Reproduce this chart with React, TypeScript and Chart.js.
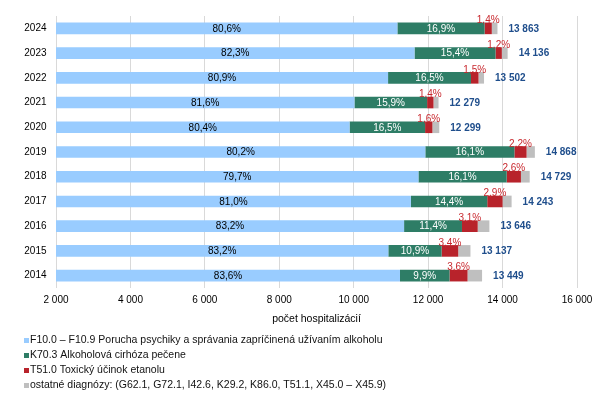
import React, { useEffect, useRef } from 'react';
import { Chart, registerables } from 'chart.js';

Chart.register(...registerables);

const years = ['2024', '2023', '2022', '2021', '2020', '2019', '2018', '2017', '2016', '2015', '2014'];
const totals = [13863, 14136, 13502, 12279, 12299, 14868, 14729, 14243, 13646, 13137, 13449];
const pctF10 = [80.6, 82.3, 80.9, 81.6, 80.4, 80.2, 79.7, 81.0, 83.2, 83.2, 83.6];
const pctK70 = [16.9, 15.4, 16.5, 15.9, 16.5, 16.1, 16.1, 14.4, 11.4, 10.9, 9.9];
const pctT51 = [1.4, 1.2, 1.5, 1.4, 1.6, 2.2, 2.6, 2.9, 3.1, 3.4, 3.6];
const pctOther = [1.1, 1.1, 1.1, 1.1, 1.5, 1.5, 1.6, 1.7, 2.3, 2.5, 2.9];

const seriesNames = [
  'F10.0 – F10.9 Porucha psychiky a správania zapríčinená užívaním alkoholu',
  'K70.3 Alkoholová cirhóza pečene',
  'T51.0 Toxický účinok etanolu',
  'ostatné diagnózy: (G62.1, G72.1, I42.6, K29.2, K86.0, T51.1, X45.0 – X45.9)',
];
const seriesColors = ['#99CCFF', '#2E7D66', '#B8232B', '#BFBFBF'];
const axisTitle = 'počet hospitalizácií';
const xMin = 2000;
const xMax = 16000;
const xStep = 2000;

const FONT = "'Liberation Sans', Arial, Helvetica, sans-serif";

const fmtThousands = (v: number) => String(Math.round(v)).replace(/\B(?=(\d{3})+(?!\d))/g, ' ');
const fmtPct = (v: number) => v.toFixed(1).replace('.', ',') + '%';

const pctSeries = [pctF10, pctK70, pctT51, pctOther];

const labelsPlugin = {
  id: 'customLabels',
  afterDatasetsDraw(chart: any) {
    const ctx = chart.ctx;
    const area = chart.chartArea;
    ctx.save();
    const m0 = chart.getDatasetMeta(0);
    const m1 = chart.getDatasetMeta(1);
    const m2 = chart.getDatasetMeta(2);
    const m3 = chart.getDatasetMeta(3);
    years.forEach((_, i) => {
      const b0 = m0.data[i];
      const b1 = m1.data[i];
      const b2 = m2.data[i];
      const b3 = m3.data[i];
      const l0 = Math.max(b0.base, area.left);
      ctx.fillStyle = '#000000';
      ctx.font = `10px ${FONT}`;
      ctx.textBaseline = 'middle';
      ctx.textAlign = 'center';
      ctx.fillText(fmtPct(pctF10[i]), (l0 + b0.x) / 2, b0.y + 0.5);
      ctx.fillStyle = '#FFFFFF';
      ctx.fillText(fmtPct(pctK70[i]), (b1.base + b1.x) / 2, b1.y + 0.5);
      ctx.fillStyle = '#C8282E';
      ctx.textBaseline = 'alphabetic';
      ctx.fillText(fmtPct(pctT51[i]), (b2.base + b2.x) / 2, b2.y - b2.height / 2 + 0.5);
      ctx.fillStyle = '#1F4E8C';
      ctx.font = `bold 10px ${FONT}`;
      ctx.textAlign = 'left';
      ctx.textBaseline = 'middle';
      ctx.fillText(fmtThousands(totals[i]), b3.x + 11, b3.y + 0.5);
    });
    ctx.restore();
  },
  afterDraw(chart: any) {
    const ctx = chart.ctx;
    ctx.save();
    ctx.font = `10.5px ${FONT}`;
    ctx.textBaseline = 'middle';
    ctx.textAlign = 'left';
    seriesNames.forEach((name, i) => {
      const y = 340.5 + i * 15;
      ctx.fillStyle = seriesColors[i];
      ctx.fillRect(24, y - 2.5, 5, 5);
      ctx.fillStyle = '#111111';
      ctx.fillText(name, 30, y);
    });
    ctx.restore();
  },
};

export default function App() {
  const ref = useRef<HTMLCanvasElement | null>(null);
  useEffect(() => {
    if (!ref.current) return;
    const data = {
      labels: years,
      datasets: pctSeries.map((p, si) => ({
        label: seriesNames[si],
        data: p.map((v, i) => (totals[i] * v) / 100),
        backgroundColor: seriesColors[si],
        borderWidth: 0,
        barPercentage: 0.47,
        categoryPercentage: 1,
      })),
    };
    const chart = new Chart(ref.current, {
      type: 'bar',
      data,
      plugins: [labelsPlugin],
      options: {
        indexAxis: 'y',
        animation: false,
        responsive: true,
        maintainAspectRatio: false,
        layout: { padding: { left: 0, right: 31, top: 16, bottom: 0 } },
        plugins: {
          legend: { display: false },
          tooltip: { enabled: false },
          title: { display: false },
        },
        scales: {
          x: {
            stacked: true,
            min: xMin,
            max: xMax,
            grid: { color: '#D9D9D9', drawTicks: false, lineWidth: 1 },
            border: { display: false },
            ticks: {
              stepSize: xStep,
              padding: 6,
              color: '#000000',
              maxRotation: 0,
              font: { size: 10, family: FONT },
              callback: (v: any) => fmtThousands(Number(v)),
            },
            title: {
              display: true,
              text: axisTitle,
              color: '#000000',
              font: { size: 10.5, family: FONT },
              padding: { top: 0, bottom: 69.5 },
            },
            afterFit: (s: any) => {
              s.height = 107;
            },
          },
          y: {
            stacked: true,
            grid: { display: false, drawTicks: false },
            border: { display: false },
            ticks: {
              color: '#000000',
              padding: 9.5,
              font: { size: 10, family: FONT },
            },
            afterFit: (s: any) => {
              s.width = 56;
            },
          },
        },
      },
    });
    return () => chart.destroy();
  }, []);
  return (
    <div style={{ position: 'fixed', left: 0, top: 0, width: 608, height: 395, background: '#ffffff' }}>
      <canvas ref={ref} />
    </div>
  );
}
